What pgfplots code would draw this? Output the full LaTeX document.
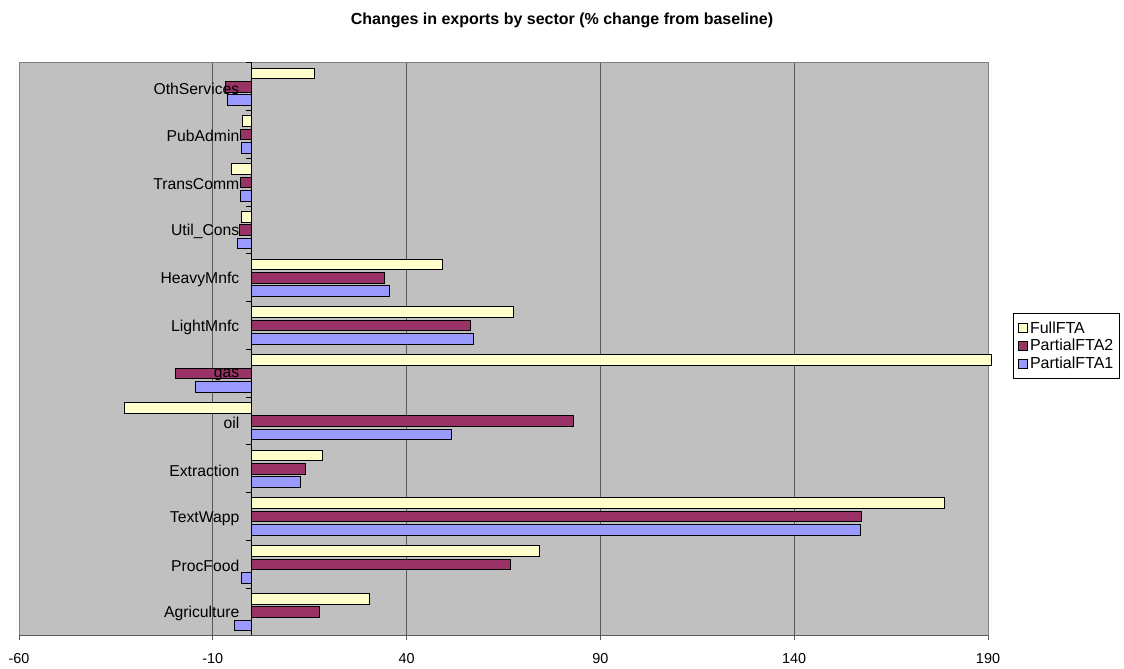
\documentclass[border=0pt]{standalone}
\usepackage{pgfplots}
\pgfplotsset{compat=1.18}
\usepackage{fontspec}
\setmainfont{Liberation Sans}
\definecolor{fullc}{HTML}{FFFFCC}
\definecolor{p2c}{HTML}{993366}
\definecolor{p1c}{HTML}{9999FF}
\definecolor{plotbg}{HTML}{C0C0C0}
\definecolor{gridc}{HTML}{595959}
\definecolor{framec}{HTML}{808080}
\pgfplotsset{
  layers/labelsontop/.define layer set={
    axis background,axis grid,axis ticks,axis lines,pre main,main,axis tick labels,axis descriptions,axis foreground
  }{
    grid style={/pgfplots/on layer=axis grid},
    tick style={/pgfplots/on layer=axis ticks},
    axis line style={/pgfplots/on layer=axis lines},
    label style={/pgfplots/on layer=axis descriptions},
    legend style={/pgfplots/on layer=axis descriptions},
    title style={/pgfplots/on layer=axis descriptions},
    ticklabel style={/pgfplots/on layer=axis tick labels},
    axis background@ style={/pgfplots/on layer=axis background},
    3d box foreground style={/pgfplots/on layer=axis foreground},
  },
}
\begin{document}
\begin{tikzpicture}
\begin{axis}[
  set layers=labelsontop,
  scale only axis, width=726.75pt, height=429.75pt,
  xbar, bar width=8pt, clip=false,
  xmin=-60, xmax=190, ymin=-0.5, ymax=11.5,
  xtick={-60,-10,40,90,140,190},
  ytick={0,...,11},
  yticklabels={Agriculture,ProcFood,TextWapp,Extraction,oil,gas,LightMnfc,HeavyMnfc,Util\_Cons,TransComm,PubAdmin,OthServices},
  ytick style={draw=none},
  yticklabel style={inner sep=0pt, anchor=east, xshift=168.4pt, yshift=-1.2pt, font=\fontsize{11.8}{14}\selectfont},
  xtick pos=lower, tick align=outside, major tick length=3pt,
  xtick style={draw=gridc, line width=0.75pt},
  xticklabel style={font=\fontsize{10.8}{13}\selectfont, yshift=-6.5pt},
  /pgf/number format/assume math mode=true,
  xmajorgrids, grid style={draw=gridc, line width=0.75pt},
  axis line style={draw=framec, line width=0.75pt},
  axis background/.style={fill=plotbg},
  every axis title shift=0pt,
  title={Changes in exports by sector (\% change from baseline)},
  title style={at={(axis description cs:0.5604,1.075)}, anchor=center, font=\fontsize{12}{14}\selectfont\bfseries},
  legend style={at={(axis description cs:1.0258,0.5637)}, anchor=north west, draw=black, line width=0.75pt, fill=white,
    font=\fontsize{12}{14}\selectfont, row sep=-1pt, inner xsep=3pt, inner ysep=4pt},
  legend cell align=left,
  reverse legend,
  legend image code/.code={\draw[#1, draw=black, line width=0.6pt] (0pt,-3.4pt) rectangle (6.8pt,3.4pt);},
  every axis plot/.append style={draw=black, line width=0.75pt},
]
\addplot[fill=p1c] coordinates {(-4.4,0) (-2.5,1) (157.2,2) (12.5,3) (51.5,4) (-14.4,5) (57.2,6) (35.7,7) (-3.6,8) (-2.9,9) (-2.7,10) (-6.2,11)};
\addlegendentry{PartialFTA1}
\addplot[fill=p2c] coordinates {(17.6,0) (66.9,1) (157.4,2) (13.9,3) (83.0,4) (-19.5,5) (56.5,6) (34.4,7) (-3.2,8) (-2.8,9) (-2.8,10) (-6.7,11)};
\addlegendentry{PartialFTA2}
\addplot[fill=fullc] coordinates {(30.3,0) (74.2,1) (178.7,2) (18.3,3) (-32.9,4) (191,5) (67.5,6) (49.2,7) (-2.7,8) (-5.3,9) (-2.3,10) (16.3,11)};
\addlegendentry{FullFTA}
\draw[black, line width=0.75pt] (axis cs:0,-0.5) -- (axis cs:0,11.5);
\pgfplotsinvokeforeach{-0.5,0.5,1.5,2.5,3.5,4.5,5.5,6.5,7.5,8.5,9.5,10.5,11.5}{\draw[black, line width=0.75pt] (axis cs:0,#1) -- ([xshift=-4.5pt]axis cs:0,#1);}
\draw[gridc, line width=0.75pt] (rel axis cs:0,0) -- (rel axis cs:1,0);
\end{axis}
\path (-14.25pt,-24pt) rectangle (828.75pt,477pt);
\end{tikzpicture}
\end{document}
